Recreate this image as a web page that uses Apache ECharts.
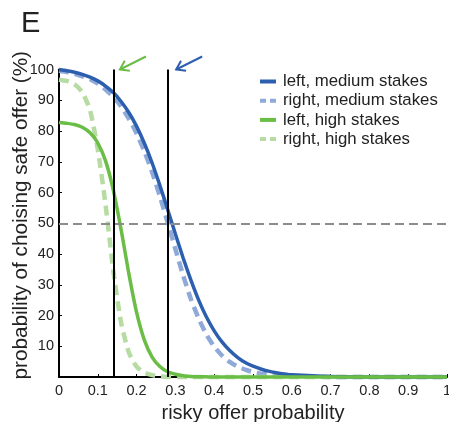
<!DOCTYPE html>
<html><head><meta charset="utf-8">
<script src="https://cdn.jsdelivr.net/npm/echarts@6/dist/echarts.min.js"></script>
<style>html,body{margin:0;padding:0;background:#fff}#c{width:449px;height:422px}</style>
</head><body><div id="c"></div>
<script>
const xs = [0,0.02,0.04,0.06,0.08,0.10,0.12,0.14,0.16,0.18,0.20,0.22,0.24,0.26,0.28,0.30,0.32,0.34,0.36,0.38,0.40,0.42,0.44,0.46,0.48,0.50,0.52,0.54,0.56,0.58,0.60,0.70,0.80,0.90,1.00];
const leftMedium = [100.0,99.6,99.1,98.4,97.5,96.3,94.6,92.5,89.6,86.0,81.5,76.0,69.6,62.3,54.5,46.5,38.7,31.5,25.0,19.5,15.0,11.4,8.6,6.4,4.7,3.5,2.6,1.9,1.4,1.0,0.7,0.15,0.03,0.01,0];
const rightMedium = [99.6,99.2,98.6,97.8,96.8,95.4,93.5,91.1,88.0,84.0,79.2,73.4,66.6,58.8,50.3,41.6,33.0,25.3,19.0,13.8,9.9,7.0,4.9,3.4,2.4,1.6,1.1,0.8,0.5,0.4,0.25,0.04,0,0,0];
const leftHigh = [82.8,82.5,82.1,81.2,79.4,76.1,70.3,60.8,48.0,33.6,21.0,12.0,6.5,3.4,1.7,0.9,0.4,0.2,0.1,0.05,0,0,0,0,0,0,0,0,0,0,0,0,0,0,0];
const rightHigh = [96.7,96.3,95.2,92.6,86.8,74.0,56.0,34.6,17.7,8.0,3.4,1.4,0.6,0.2,0.1,0,0,0,0,0,0,0,0,0,0,0,0,0,0,0,0,0,0,0,0];
const seriesNames = ['left, medium stakes','right, medium stakes','left, high stakes','right, high stakes'];
const thresholdX = [0.138, 0.284];
const halfLevel = 50;
const arrowHeads = [[0.157, 100], [0.302, 100]];

const pair = ys => xs.map((x, i) => [x, ys[i]]);
const chart = echarts.init(document.getElementById('c'));
const FONT = 'Liberation Sans, Arial, sans-serif';
const C = {blue:'#2d5faf', lblue:'#8fa9d8', green:'#6abd45', lgreen:'#b6dca3'};
const SOLID_ICON = 'path://M0,0H16V4H0Z';
const DASH_ICON = 'path://M0,0H6V4H0Z M10,0H16V4H10Z';

function lineSeries(name, ys, color, dashed, width, z) {
  return {
    name, type:'line', data: pair(ys), symbol:'none', showSymbol:false, clip:false, z,
    smooth: 0.2,
    lineStyle:{color, width, type: dashed ? [10,6] : 'solid', cap:'butt'},
    itemStyle:{color}
  };
}

chart.setOption({
  animation:false,
  grid:{left:59, right:2, top:69.5, bottom:45, containLabel:false, outerBoundsMode:'none'},
  legend:{
    data: [
      {name:seriesNames[0], icon:SOLID_ICON},
      {name:seriesNames[1], icon:DASH_ICON},
      {name:seriesNames[2], icon:SOLID_ICON},
      {name:seriesNames[3], icon:DASH_ICON}
    ],
    orient:'vertical', left:255, top:68, symbolKeepAspect:false,
    itemWidth:16, itemHeight:4, itemGap:2.2,
    itemStyle:{borderWidth:0},
    textStyle:{fontFamily:FONT, fontSize:16.8, color:'#222', lineHeight:17, padding:[0,0,0,2]}
  },
  xAxis:{
    type:'value', min:0, max:1, interval:0.1,
    name:'risky offer probability', nameLocation:'middle', nameGap:26, nameMoveOverlap:false,
    nameTextStyle:{fontFamily:FONT, fontSize:20, color:'#222'},
    axisLine:{lineStyle:{color:'#000', width:2}},
    axisTick:{inside:true, length:3, lineStyle:{color:'#000'}},
    axisLabel:{fontFamily:FONT, fontSize:14.5, color:'#222', margin:6},
    splitLine:{show:false}
  },
  yAxis:{
    type:'value', min:0, max:100, interval:10,
    name:'probability of choising safe offer (%)', nameLocation:'middle', nameGap:27, nameMoveOverlap:false,
    nameTextStyle:{fontFamily:FONT, fontSize:20.7, color:'#222', padding:[0,0,0,16]},
    axisLine:{show:true, lineStyle:{color:'#000', width:2}},
    axisTick:{show:true, inside:true, length:3, lineStyle:{color:'#000'}},
    axisLabel:{fontFamily:FONT, fontSize:14.5, color:'#222', margin:5, showMinLabel:false},
    splitLine:{show:false}
  },
  series:[
    {type:'line', data:[], silent:true, z:1,
     markLine:{silent:true, symbol:'none', label:{show:false},
       data: thresholdX.map(v => ({xAxis:v, lineStyle:{color:'#000', width:2, type:'solid'}}))
         .concat([{yAxis:halfLevel, lineStyle:{color:'#8c8c8c', width:2, type:[9,5]}}])}},
    lineSeries(seriesNames[1], rightMedium, C.lblue, true, 4.5, 2),
    lineSeries(seriesNames[0], leftMedium, C.blue, false, 3.5, 3),
    lineSeries(seriesNames[3], rightHigh, C.lgreen, true, 4.5, 2),
    lineSeries(seriesNames[2], leftHigh, C.green, false, 3.5, 3)
  ]
});

const arrowColors = [C.green, C.blue];
const g = [{type:'text', left:21, top:9, style:{text:'E', fontFamily:FONT, fontSize:29, fill:'#222'}}];
arrowHeads.forEach((h, i) => {
  const p = chart.convertToPixel({gridIndex:0}, h);
  const tail = [p[0] + 26, p[1] - 13];
  const dx = p[0] - tail[0], dy = p[1] - tail[1];
  const L = Math.hypot(dx, dy), ux = dx / L, uy = dy / L;
  const a = 0.6, w = 10;
  const rot = (ang) => [-(ux*Math.cos(ang) - uy*Math.sin(ang)) * w, -(ux*Math.sin(ang) + uy*Math.cos(ang)) * w];
  const r1 = rot(a), r2 = rot(-a);
  g.push({type:'line', shape:{x1:tail[0], y1:tail[1], x2:p[0], y2:p[1]}, style:{stroke:arrowColors[i], lineWidth:2}});
  g.push({type:'polyline', shape:{points:[[p[0]+r1[0], p[1]+r1[1]], p, [p[0]+r2[0], p[1]+r2[1]]]}, style:{stroke:arrowColors[i], lineWidth:2, fill:null}});
});
chart.setOption({graphic:g});
</script></body></html>
